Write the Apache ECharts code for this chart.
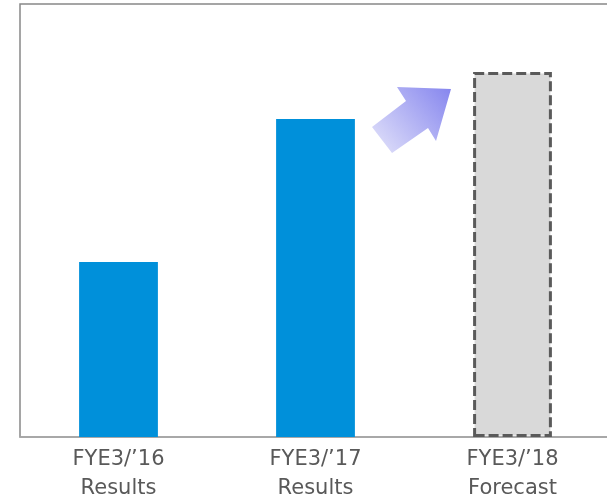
<!DOCTYPE html>
<html>
<head>
<meta charset="utf-8">
<script src="https://cdn.jsdelivr.net/npm/echarts@6/dist/echarts.min.js"></script>
<style>
  html, body { margin: 0; padding: 0; background: #fff; }
  #chart { width: 607px; height: 500px; }
</style>
</head>
<body>
<div id="chart"></div>
<script>
// categories and values (arbitrary units)
const categories = ["FYE3/\u201916\nResults", "FYE3/\u201917\nResults", "FYE3/\u201918\nForecast"];
const results = [175, 318, '-'];
const forecast = ['-', '-', 365];

const chart = echarts.init(document.getElementById('chart'));

const option = {
  animation: false,
  grid: {
    left: 20,
    top: 4,
    width: 591,
    height: 433,
    outerBoundsMode: 'none',
    containLabel: false,
    show: true,
    borderColor: '#888',
    borderWidth: 1.5
  },
  xAxis: {
    type: 'category',
    data: categories,
    axisLine: { lineStyle: { color: '#aaa', width: 1.5 } },
    axisTick: { show: false },
    axisLabel: {
      color: '#595959',
      fontFamily: 'DejaVu Sans',
      fontSize: 21,
      lineHeight: 29,
      margin: 8
    }
  },
  yAxis: {
    type: 'value',
    min: 0,
    max: 433,
    show: false,
    splitLine: { show: false }
  },
  series: [
    {
      type: 'bar',
      data: results,
      barWidth: '40%',
      barGap: '-100%',
      itemStyle: { color: '#0090da' }
    },
    {
      type: 'bar',
      data: forecast,
      barWidth: '40%',
      barGap: '-100%',
      itemStyle: {
        color: '#d9d9d9',
        borderColor: '#5a5a5a',
        borderWidth: 3,
        borderType: [10, 4]
      }
    }
  ],
  graphic: [
    {
      type: 'polygon',
      shape: {
        points: [[372, 127], [406, 101], [397, 87], [451, 89], [436, 141], [428, 128], [392, 153]]
      },
      style: {
        fill: new echarts.graphic.LinearGradient(0, 1, 1, 0, [
          { offset: 0, color: '#e4e4fa' },
          { offset: 1, color: '#8585ee' }
        ])
      }
    }
  ]
};

chart.setOption(option);
</script>
</body>
</html>
